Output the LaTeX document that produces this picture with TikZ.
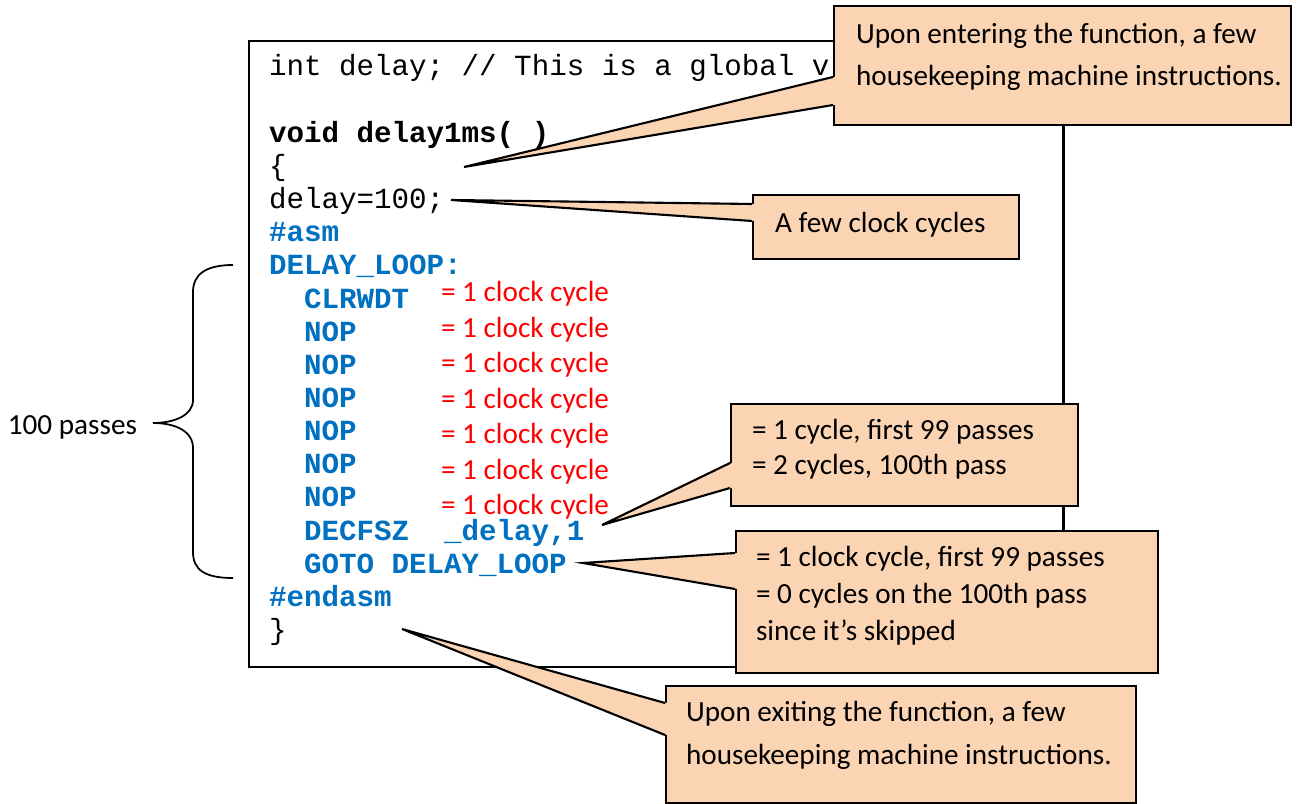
\documentclass[tikz,border=0pt]{standalone}
\usepackage{fontspec}
\setsansfont{Carlito}
\setmonofont{Liberation Mono}
\usetikzlibrary{positioning,calc}
\definecolor{asmblue}{HTML}{0070C0}
\definecolor{notefill}{HTML}{FBD4B4}

\begin{document}
\begin{tikzpicture}[x=0.01cm, y=-0.01cm, line width=0.6pt,
  code/.style={anchor=base west, inner sep=0pt, font=\fontsize{8.3}{10}\selectfont\ttfamily},
  asm/.style={code, text=asmblue, font=\fontsize{8.3}{10}\selectfont\ttfamily\bfseries},
  cyc/.style={anchor=base west, inner sep=0pt, text=red, font=\fontsize{8.3}{10}\selectfont\sffamily},
  notebox/.style={draw, fill=notefill, anchor=north west, inner sep=0pt},
  note/.style={anchor=base west, inner sep=0pt, align=left, font=\fontsize{8.3}{#1}\selectfont\sffamily}]

  \useasboundingbox (0,0) rectangle (1307,804);

  % the C function
  \node[draw, fill=white, anchor=north west, inner sep=0pt,
        minimum width=8.14cm, minimum height=6.26cm] (codebox) at (248,40) {};

  \node[code] (globalvar) at (268,76) {int delay; // This is a global v};
  \node[code, font=\fontsize{8.3}{10}\selectfont\ttfamily\bfseries] (fname) at (268,142.3) {void delay1ms( )};
  \node[code] (lbrace) at (268,175.5) {\{};
  \node[code] (assign) at (268,208.6) {delay=100;};
  \node[asm] (asmstart) at (268,241.8) {\#asm};
  \node[asm] (looplabel) at (268,274.9) {DELAY\_LOOP:};
  \node[asm] (clrwdt) at (303,308.1) {CLRWDT};
  \foreach \i in {1,...,6}
    \node[asm] (nop\i) at (303,308.1+33.15*\i) {NOP};
  \node[asm] (decfsz) at (303,540.1) {DECFSZ\ \ \_delay,1};
  \node[asm] (gotoloop) at (303,573.3) {GOTO DELAY\_LOOP};
  \node[asm] (asmend) at (268,606.4) {\#endasm};
  \node[code] (rbrace) at (268,639.6) {\}};

  % cycles per instruction
  \foreach \i in {0,...,6}
    \node[cyc] (cyc\i) at (440,302+35.5*\i) {= 1 clock cycle};

  % loop brace
  \draw[line width=0.5pt] (233,265) .. controls (205,265) and (193,275) .. (193,292)
    -- (193,400) .. controls (193,415) and (175,423) .. (153,423)
    .. controls (175,423) and (193,431) .. (193,448)
    -- (193,552) .. controls (193,570) and (205,578) .. (233,578);
  \node[anchor=base east, inner sep=0pt, font=\fontsize{8.3}{10}\selectfont\sffamily] (passes) at (138,435) {100 passes};

  % callouts (text anchored at the baseline of its last line)
  \node[notebox, minimum width=4.57cm, minimum height=1.19cm] (enterbox) at (833,5) {};
  \coordinate (entertip) at (464,167);
  \fill[notefill] ($(enterbox.north west)+(2,72)$) -- (entertip) -- ($(enterbox.north west)+(2,100)$) -- cycle;
  \draw ($(enterbox.north west)+(0,72)$) -- (entertip) -- ($(enterbox.north west)+(0,100)$);
  \node[note=12.2] (entertext) at (855,86) {Upon entering the function, a few\\housekeeping machine instructions.};

  \node[notebox, minimum width=2.66cm, minimum height=0.64cm] (assignbox) at (752,194) {};
  \coordinate (assigntip) at (451,200);
  \fill[notefill] ($(assignbox.north west)+(2,10)$) -- (assigntip) -- ($(assignbox.north west)+(2,27)$) -- cycle;
  \draw ($(assignbox.north west)+(0,10)$) -- (assigntip) -- ($(assignbox.north west)+(0,27)$);
  \node[note=10] (assigntext) at (774,233) {A few clock cycles};

  \node[notebox, minimum width=3.47cm, minimum height=1.02cm] (decbox) at (730,403) {};
  \coordinate (dectip) at (602,525);
  \fill[notefill] ($(decbox.north west)+(2,60)$) -- (dectip) -- ($(decbox.north west)+(2,85)$) -- cycle;
  \draw ($(decbox.north west)+(0,60)$) -- (dectip) -- ($(decbox.north west)+(0,85)$);
  \node[note=9.96] (dectext) at (751,475) {= 1 cycle, first 99 passes\\= 2 cycles, 100th pass};

  \node[notebox, minimum width=4.22cm, minimum height=1.42cm] (gotobox) at (735,530) {};
  \coordinate (gototip) at (583,563);
  \fill[notefill] ($(gotobox.north west)+(2,23)$) -- (gototip) -- ($(gotobox.north west)+(2,59)$) -- cycle;
  \draw ($(gotobox.north west)+(0,23)$) -- (gototip) -- ($(gotobox.north west)+(0,59)$);
  \node[note=10.38] (gototext) at (755,640) {= 1 clock cycle, first 99 passes\\= 0 cycles on the 100th pass\\since it’s skipped};

  \node[notebox, minimum width=4.70cm, minimum height=1.17cm] (exitbox) at (665,685) {};
  \coordinate (exittip) at (402,629);
  \fill[notefill] ($(exitbox.north west)+(2,18)$) -- (exittip) -- ($(exitbox.north west)+(2,50)$) -- cycle;
  \draw ($(exitbox.north west)+(0,18)$) -- (exittip) -- ($(exitbox.north west)+(0,50)$);
  \node[note=11.95] (exittext) at (685,764) {Upon exiting the function, a few\\housekeeping machine instructions.};

\end{tikzpicture}
\end{document}
